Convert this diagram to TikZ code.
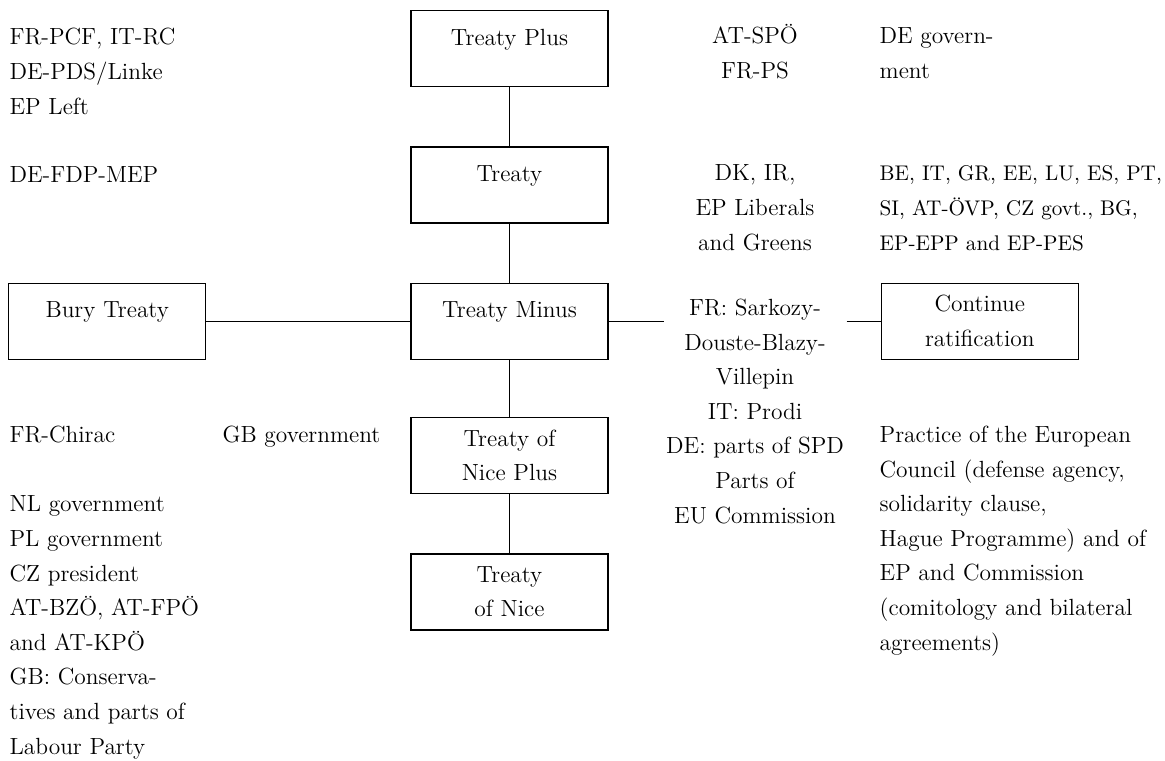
\documentclass[tikz,border=0pt]{standalone}
\usepackage{tikz}
\usetikzlibrary{positioning}
\tikzset{
optbox/.style={draw, line width=0.65pt, inner sep=0pt, text width=98.5pt, align=center, text height=14.25pt, text depth=23.75pt},
oneline/.style={text height=17.25pt, text depth=20.75pt},
actors/.style={inner sep=0pt, align=left, anchor=base west},
midactors/.style={inner sep=0pt, align=center, anchor=base}
}
\begin{document}
\begin{tikzpicture}[x=0.5pt, y=-0.5pt, line width=0.65pt, node distance=29.5pt, every node/.append style={font=\fontsize{11.7}{17.3}\selectfont}]
\useasboundingbox (0,0) rectangle (1165,760);
\node[optbox, oneline, anchor=north] (plus) at (509.5,10) {Treaty Plus};
\node[optbox, oneline, below=of plus] (treaty) {Treaty};
\node[optbox, oneline, below=of treaty] (minus) {Treaty Minus};
\node[optbox, below=28.5pt of minus] (niceplus) {Treaty of\\Nice Plus};
\node[optbox, below=of niceplus] (nice) {Treaty\\of Nice};
\node[optbox, oneline, left=102pt of minus] (bury) {Bury Treaty};
\node[optbox, right=136pt of minus] (cont) {Continue\\ratification};
\coordinate (gapL) at ([xshift=27.5pt]minus.east);
\coordinate (gapR) at ([xshift=-17pt]cont.west);
\draw (plus) -- (treaty);
\draw (treaty) -- (minus);
\draw (minus) -- (niceplus);
\draw (niceplus) -- (nice);
\draw (bury) -- (minus);
\draw (minus.east) -- (gapL);
\draw (gapR) -- (cont.west);
\node[actors] (left) at (9,114) {FR-PCF, IT-RC\\DE-PDS/Linke\\EP Left};
\node[actors] (fdp) at (9,182) {DE-FDP-MEP};
\node[actors] (chirac) at (9,442) {FR-Chirac};
\node[actors] (nl) at (9,754) {NL government\\PL government\\CZ president\\AT-BZÖ, AT-FPÖ\\and AT-KPÖ\\GB: Conserva-\\tives and parts of\\Labour Party};
\node[actors] (gb) at (222,442) {GB government};
\node[midactors] (spoe) at (755,78) {AT-SPÖ\\FR-PS};
\node[midactors] (dk) at (755,250) {DK, IR,\\EP Liberals\\and Greens};
\node[midactors] (fr) at (755,523) {FR: Sarkozy-\\Douste-Blazy-\\Villepin\\IT: Prodi\\DE: parts of SPD\\Parts of\\EU Commission};
\node[actors] (degov) at (879,78) {DE govern-\\ment};
\node[actors, font=\fontsize{10.6}{17.3}\selectfont] (be) at (879,250) {BE, IT, GR, EE, LU, ES, PT,\\SI, AT-ÖVP, CZ govt., BG,\\EP-EPP and EP-PES};
\node[actors] (council) at (879,650) {Practice of the European\\Council (defense agency,\\solidarity clause,\\Hague Programme) and of\\EP and Commission\\(comitology and bilateral\\agreements)};
\end{tikzpicture}
\end{document}
